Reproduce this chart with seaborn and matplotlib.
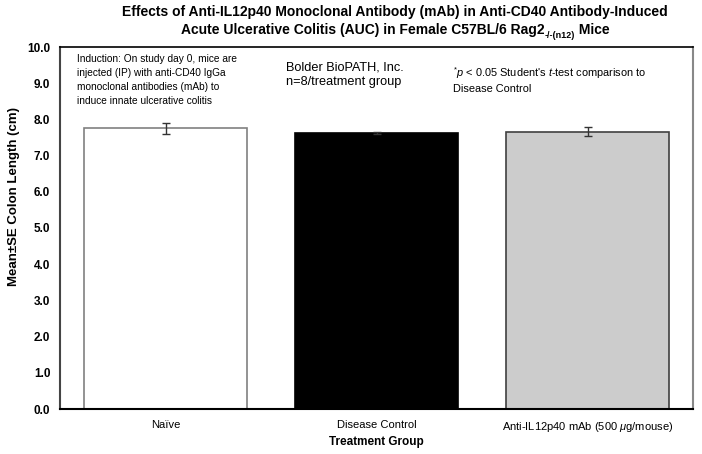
import numpy as np
import pandas as pd
import seaborn as sns
import matplotlib.pyplot as plt

groups = ['Naïve', 'Disease Control', r'Anti-IL12p40 mAb (500 $\mathit{\mu}$g/mouse)']
means = [7.76, 7.62, 7.66]
sems = [0.15, 0.03, 0.13]
fills = ['#ffffff', '#000000', '#cccccc']
edges = ['#808080', '#000000', '#404040']

sns.set_style('white')
plt.rcParams['font.family'] = ['Liberation Sans', 'DejaVu Sans']
plt.rcParams['mathtext.fontset'] = 'custom'
plt.rcParams['mathtext.rm'] = 'Liberation Sans'
plt.rcParams['mathtext.it'] = 'Liberation Sans:italic'
plt.rcParams['mathtext.bf'] = 'Liberation Sans:bold'
for key in ['text.color', 'axes.labelcolor', 'xtick.color', 'ytick.color']:
    plt.rcParams[key] = 'black'

df = pd.DataFrame({'group': groups, 'mean': means})

fig = plt.figure(figsize=(7.02, 4.54), dpi=100)
ax = fig.add_axes([60 / 702, 45 / 454, 633 / 702, 362 / 454])

sns.barplot(data=df, x='group', y='mean', hue='group', palette=fills,
            width=0.77, legend=False, ax=ax, errorbar=None)
for bar, ec in zip(ax.patches, edges):
    bar.set_edgecolor(ec)
    bar.set_linewidth(1.2)

ax.errorbar(range(len(groups)), means, yerr=sems, fmt='none',
            ecolor='#333333', elinewidth=1, capsize=3, capthick=1)

ax.set_ylim(0, 10)
ax.set_xlim(-0.5, 2.5)
ax.set_yticks(np.arange(0, 10.1, 1.0))
ax.set_yticklabels([f'{v:.1f}' for v in np.arange(0, 10.1, 1.0)],
                   fontweight='bold', fontsize=8.5)
ax.tick_params(axis='y', direction='inout', length=6, width=1, color='#444444', pad=4)
ax.tick_params(axis='x', length=0, labelsize=8, pad=8)

for side in ['left', 'right', 'top', 'bottom']:
    ax.spines[side].set_visible(True)
ax.spines['left'].set_color('#444444')
ax.spines['left'].set_linewidth(1.5)
ax.spines['bottom'].set_color('black')
ax.spines['bottom'].set_linewidth(1.5)
ax.spines['top'].set_color('black')
ax.spines['top'].set_linewidth(1.2)
ax.spines['right'].set_color('#888888')
ax.spines['right'].set_linewidth(1.5)

ax.set_xlabel('Treatment Group', fontweight='bold', fontsize=8.5, labelpad=1)
ax.set_ylabel('Mean±SE Colon Length (cm)', fontweight='bold', fontsize=9.5)
ax.yaxis.set_label_coords(-0.063, 0.586)

# title, second line built from pieces so the subscript keeps plain hyphens
tsize = 10
cx = 395 / 702
fig.text(cx, 0.988, 'Effects of Anti-IL12p40 Monoclonal Antibody (mAb) in Anti-CD40 Antibody-Induced',
         ha='center', va='top', fontsize=tsize, fontweight='bold')
renderer = fig.canvas.get_renderer()
y2 = 1 - 34 / 454
pieces = [('Acute Ulcerative Colitis (AUC) in Female C57BL/6 Rag2', tsize, 0),
          ('-/-(n12)', 6.5, -0.008),
          (' Mice', tsize, 0)]
items = []
for s, fs, dy in pieces:
    t = fig.text(0, y2 + dy, s, ha='left', va='baseline', fontsize=fs, fontweight='bold')
    items.append(t)
widths = [t.get_window_extent(renderer).width / fig.bbox.width for t in items]
x = cx - sum(widths) / 2
for t, w in zip(items, widths):
    t.set_x(x)
    x += w

fig.text(77 / 702, 1 - 54 / 454,
         'Induction: On study day 0, mice are\ninjected (IP) with anti-CD40 IgGa\n'
         'monoclonal antibodies (mAb) to\ninduce innate ulcerative colitis',
         ha='left', va='top', fontsize=7.3, linespacing=1.5)
fig.text(286 / 702, 1 - 62 / 454, 'Bolder BioPATH, Inc.\nn=8/treatment group',
         ha='left', va='top', fontsize=9.2, linespacing=1.25)
fig.text(453 / 702, 1 - 65 / 454,
         r'$^{*}\mathit{p}$ < 0.05 Student' + "'" + r's $\mathit{t}$-test comparison to' + '\nDisease Control',
         ha='left', va='top', fontsize=7.9, linespacing=1.4)

fig.savefig('out.png', dpi=100)
